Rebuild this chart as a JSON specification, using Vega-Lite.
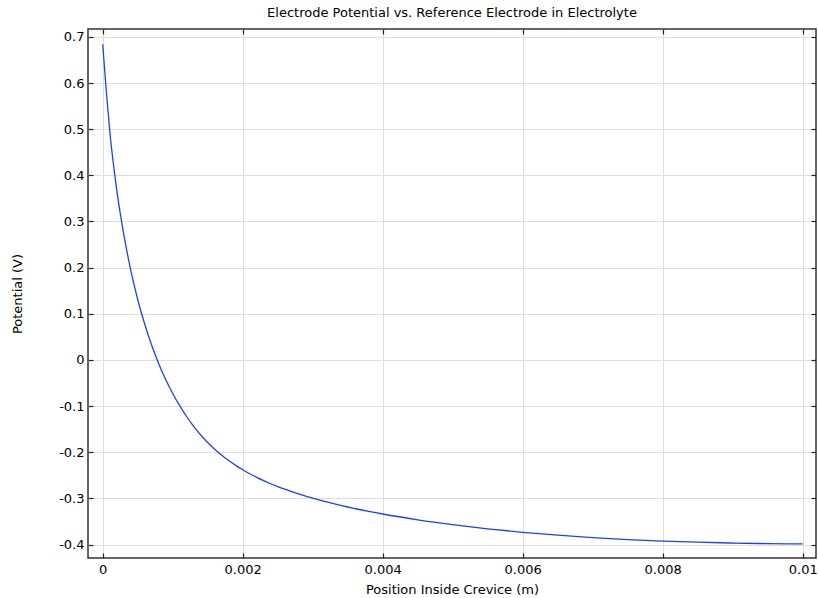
{
  "$schema": "https://vega.github.io/schema/vega-lite/v6.json",
  "autosize": "none",
  "padding": {"left": 88, "top": 29, "right": 2, "bottom": 40},
  "width": 728,
  "height": 529,
  "background": "white",
  "config": {
    "font": "DejaVu Sans",
    "view": {"stroke": "#333333", "strokeWidth": 1.5},
    "axis": {
      "labelFont": "DejaVu Sans",
      "labelFontSize": 13,
      "labelColor": "black",
      "titleFont": "DejaVu Sans",
      "titleFontSize": 13,
      "titleFontWeight": "normal",
      "titleColor": "black",
      "tickColor": "#222222",
      "tickSize": -5,
      "tickWidth": 1.2,
      "domain": false,
      "gridColor": "#dedede",
      "gridWidth": 1
    },
    "title": {"font": "DejaVu Sans", "fontSize": 13, "fontWeight": "normal", "color": "black"}
  },
  "title": {"text": "Electrode Potential vs. Reference Electrode in Electrolyte", "offset": 8},
  "data": {
    "values": [
      {"x": 0, "y": 0.684},
      {"x": 0.00005, "y": 0.585},
      {"x": 0.0001, "y": 0.497},
      {"x": 0.0002, "y": 0.369},
      {"x": 0.0003, "y": 0.273},
      {"x": 0.0004, "y": 0.195},
      {"x": 0.0005, "y": 0.131},
      {"x": 0.0006, "y": 0.078},
      {"x": 0.0007, "y": 0.032},
      {"x": 0.0008, "y": -0.008},
      {"x": 0.0009, "y": -0.0425},
      {"x": 0.001, "y": -0.0725},
      {"x": 0.0011, "y": -0.099},
      {"x": 0.0012, "y": -0.123},
      {"x": 0.0013, "y": -0.144},
      {"x": 0.0014, "y": -0.1625},
      {"x": 0.0015, "y": -0.1788},
      {"x": 0.0016, "y": -0.1933},
      {"x": 0.0017, "y": -0.2063},
      {"x": 0.0018, "y": -0.2179},
      {"x": 0.0019, "y": -0.2283},
      {"x": 0.002, "y": -0.2378},
      {"x": 0.0021, "y": -0.2464},
      {"x": 0.0022, "y": -0.2542},
      {"x": 0.0023, "y": -0.2614},
      {"x": 0.0024, "y": -0.2681},
      {"x": 0.0025, "y": -0.2742},
      {"x": 0.0026, "y": -0.2799},
      {"x": 0.0027, "y": -0.2853},
      {"x": 0.0028, "y": -0.2903},
      {"x": 0.0029, "y": -0.295},
      {"x": 0.003, "y": -0.2993},
      {"x": 0.0031, "y": -0.3035},
      {"x": 0.0032, "y": -0.3075},
      {"x": 0.0033, "y": -0.3113},
      {"x": 0.0034, "y": -0.315},
      {"x": 0.0035, "y": -0.3185},
      {"x": 0.0036, "y": -0.3218},
      {"x": 0.0037, "y": -0.325},
      {"x": 0.0038, "y": -0.328},
      {"x": 0.0039, "y": -0.3309},
      {"x": 0.004, "y": -0.3337},
      {"x": 0.0045, "y": -0.3462},
      {"x": 0.005, "y": -0.3567},
      {"x": 0.0055, "y": -0.3657},
      {"x": 0.006, "y": -0.3733},
      {"x": 0.0065, "y": -0.3796},
      {"x": 0.007, "y": -0.3848},
      {"x": 0.0075, "y": -0.389},
      {"x": 0.008, "y": -0.3923},
      {"x": 0.0085, "y": -0.3948},
      {"x": 0.009, "y": -0.3966},
      {"x": 0.0095, "y": -0.3978},
      {"x": 0.01, "y": -0.3985}
    ]
  },
  "layer": [
    {
      "mark": {"type": "line", "color": "#1f3fff", "strokeWidth": 1.3, "interpolate": "monotone", "clip": true},
      "encoding": {
        "x": {
          "field": "x", "type": "quantitative",
          "scale": {"domain": [-0.00021, 0.01019], "nice": false, "zero": false},
          "axis": {
            "orient": "bottom",
            "title": "Position Inside Crevice (m)",
            "values": [0, 0.002, 0.004, 0.006, 0.008, 0.01],
            "format": "~g",
            "labelPadding": 10,
            "titlePadding": 7
          }
        },
        "y": {
          "field": "y", "type": "quantitative",
          "scale": {"domain": [-0.429, 0.717], "nice": false, "zero": false},
          "axis": {
            "orient": "left",
            "title": "Potential (V)",
            "values": [-0.4, -0.3, -0.2, -0.1, 0, 0.1, 0.2, 0.3, 0.4, 0.5, 0.6, 0.7],
            "labelExpr": "replace(format(datum.value, '~g'), '\u2212', '-')",
            "labelPadding": 9,
            "titlePadding": 34
          }
        }
      }
    },
    {
      "mark": {"type": "line", "opacity": 0, "clip": true},
      "encoding": {
        "x": {
          "field": "x", "type": "quantitative",
          "axis": {"orient": "top", "title": null, "labels": false, "grid": false,
                   "values": [0, 0.002, 0.004, 0.006, 0.008, 0.01]}
        },
        "y": {
          "field": "y", "type": "quantitative",
          "axis": {"orient": "right", "title": null, "labels": false, "grid": false,
                   "values": [-0.4, -0.3, -0.2, -0.1, 0, 0.1, 0.2, 0.3, 0.4, 0.5, 0.6, 0.7]}
        }
      }
    }
  ],
  "resolve": {"axis": {"x": "independent", "y": "independent"}}
}
